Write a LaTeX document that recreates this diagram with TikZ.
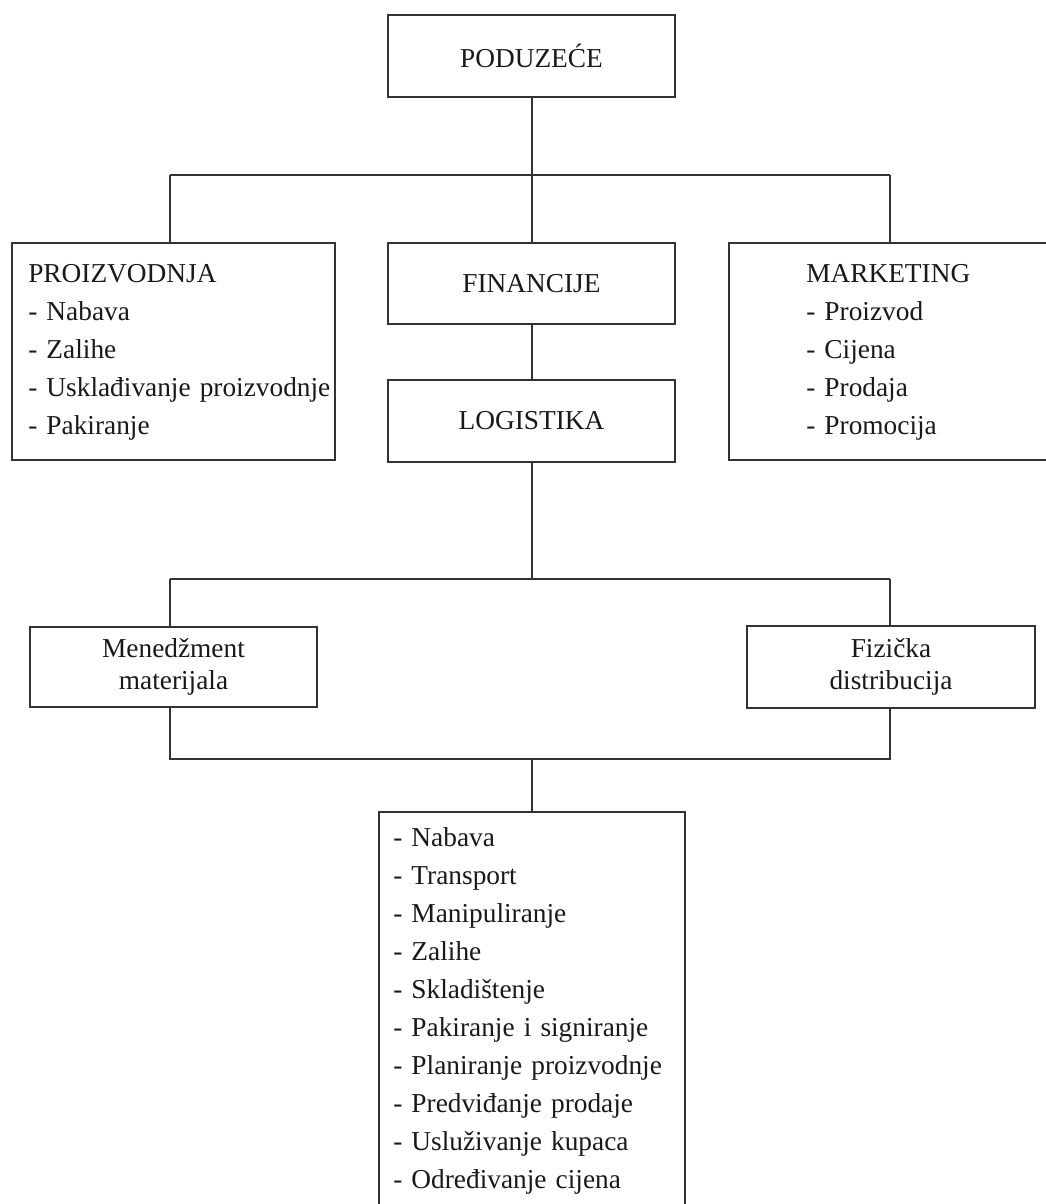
\documentclass[tikz,border=0pt]{standalone}
\usepackage{fontspec}
\setmainfont{Liberation Serif}
\begin{document}
\begin{tikzpicture}[x=0.75pt,y=-0.75pt,
  ln/.style={line width=1.5pt, draw=black!80},
  box/.style={ln, draw, inner sep=0pt, outer sep=0pt, align=center,
    font=\fontsize{20.5pt}{24pt}\selectfont, text=black!90},
  listtxt/.style={inner sep=0pt, anchor=base west, align=left,
    font=\fontsize{20.5pt}{28.5pt}\selectfont, text=black!90}]
\useasboundingbox (0,0) rectangle (1046,1204);
\clip (0,0) rectangle (1046,1204);
\fill[white] (0,0) rectangle (1046,1204);
% boxes
\node[box, minimum width=215.25pt, minimum height=61.5pt] (pod) at (531.5,56) {PODUZEĆE};
\node[box, minimum width=242.25pt, minimum height=162.75pt] (pro) at (173.5,351.5) {};
\node[box, minimum width=215.25pt, minimum height=60.75pt] (fin) at (531.5,283.5) {FINANCIJE};
\node[box, minimum width=215.25pt, minimum height=61.5pt] (log) at (531.5,421) {LOGISTIKA};
\node[box, minimum width=248.25pt, minimum height=162.75pt] (mar) at (894.5,351.5) {};
\node[box, minimum width=215.25pt, minimum height=60pt] (men) at (173.5,667) {Menedžment\\materijala};
\node[box, minimum width=216pt, minimum height=61.5pt] (fiz) at (891,667) {Fizička\\distribucija};
\node[box, minimum width=229.5pt, minimum height=306pt] (bot) at (532,1016) {};
% list texts
\node[listtxt, text width=235pt] (protx) at (28,282) {PROIZVODNJA\\- Nabava\\- Zalihe\\- Usklađivanje proizvodnje\\- Pakiranje};
\node[listtxt, text width=170pt] (martx) at (806,282) {MARKETING\\- Proizvod\\- Cijena\\- Prodaja\\- Promocija};
\node[listtxt, text width=215pt] (bottx) at (393,846) {- Nabava\\- Transport\\- Manipuliranje\\- Zalihe\\- Skladištenje\\- Pakiranje i signiranje\\- Planiranje proizvodnje\\- Predviđanje prodaje\\- Usluživanje kupaca\\- Određivanje cijena};
% connectors top
\coordinate (tm) at (531.5,175);
\coordinate (tl) at (170,175);
\coordinate (tr) at (890,175);
\draw[ln] (pod.south) -- (tm);
\draw[ln] (tl) -- (tr);
\draw[ln] (tl) -- (tl |- pro.north);
\draw[ln] (tm) -- (fin.north);
\draw[ln] (tr) -- (tr |- mar.north);
\draw[ln] (fin.south) -- (log.north);
% connectors middle
\coordinate (mm) at (531.5,579);
\coordinate (ml) at (170,579);
\coordinate (mr) at (890,579);
\draw[ln] (log.south) -- (mm);
\draw[ln] (ml) -- (mr);
\draw[ln] (ml) -- (ml |- men.north);
\draw[ln] (mr) -- (mr |- fiz.north);
% connectors lower
\coordinate (bl) at (170,759);
\coordinate (br) at (890,759);
\coordinate (bm) at (532,759);
\draw[ln] (bl |- men.south) -- (bl) -- (br) -- (br |- fiz.south);
\draw[ln] (bm) -- (bot.north);
\end{tikzpicture}
\end{document}
